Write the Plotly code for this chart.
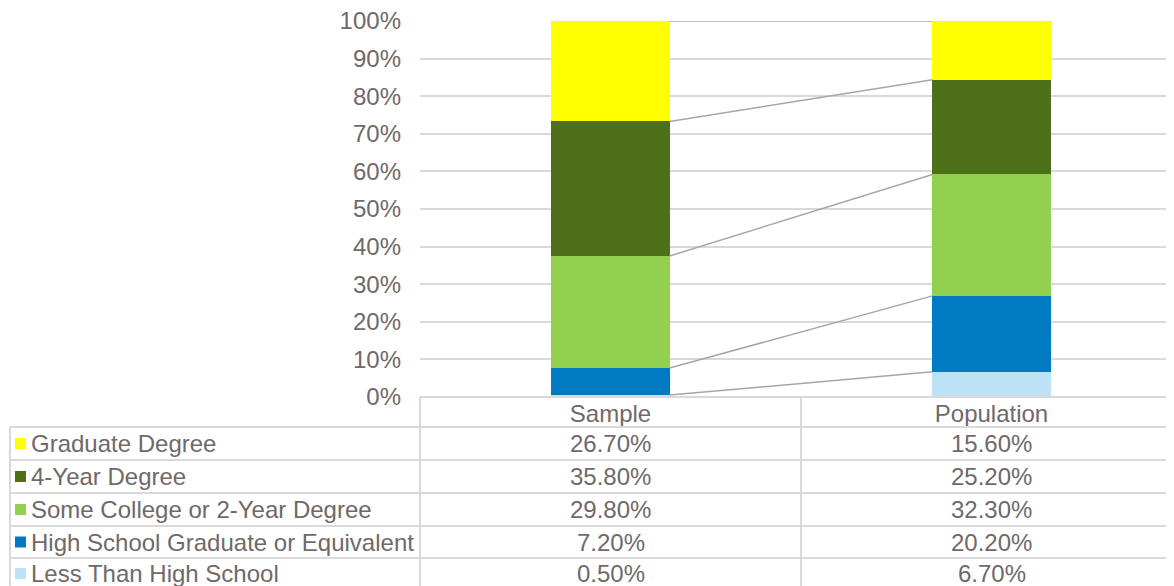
import plotly.graph_objects as go

categories = ["Sample", "Population"]
series_names = ["Graduate Degree", "4-Year Degree", "Some College or 2-Year Degree",
                "High School Graduate or Equivalent", "Less Than High School"]
sample_vals = [26.7, 35.8, 29.8, 7.2, 0.5]
population_vals = [15.6, 25.2, 32.3, 20.2, 6.7]
series_colors = ["#FFFF00", "#4F701A", "#92D050", "#007AC2", "#BDE1F5"]
y_ticks = list(range(0, 101, 10))
y_tick_labels = [f"{v}%" for v in y_ticks]

W, H = 1174, 586
OFF = 8  # page body margin
TXT = "#6F6969"
GRID = "#D9D9D9"
FONT = "Liberation Sans, Arial, Helvetica, sans-serif"
FS = 24

def px(x):
    return (x - OFF) / W

def py(y):
    return 1 - (y - OFF) / H

bw = 0.31
fig = go.Figure()

# stacked bars, bottom series first
for i in reversed(range(len(series_names))):
    fig.add_trace(go.Bar(
        x=[0, 1], y=[sample_vals[i], population_vals[i]],
        width=bw, marker=dict(color=series_colors[i], line=dict(width=0)),
        name=series_names[i], showlegend=False, hoverinfo="skip"))

# series lines connecting cumulative tops
cum_s, cum_p = 0.0, 0.0
for i in reversed(range(len(series_names))):
    cum_s += sample_vals[i]
    cum_p += population_vals[i]
    fig.add_trace(go.Scatter(
        x=[bw / 2, 1 - bw / 2], y=[cum_s, cum_p], mode="lines",
        line=dict(color="#A6A6A6", width=1.5), showlegend=False, hoverinfo="skip"))

x0, x_mid, x_end = 420, 801, 1182
y_axis_bottom, y_axis_top = 397, 21
row_lines = [427, 460, 493, 526, 558]
row_centers = [443.5, 476.5, 509.5, 542, 573.5]

fig.update_layout(
    width=W, height=H, margin=dict(l=0, r=0, t=0, b=0, autoexpand=False),
    paper_bgcolor="white", plot_bgcolor="white",
    barmode="stack",
    font=dict(family=FONT, size=FS, color=TXT),
    xaxis=dict(domain=[px(x0), px(x_end)], range=[-0.5, 1.5],
               tickvals=[0, 1], ticktext=categories, showgrid=False, zeroline=False,
               showline=False, ticks="", automargin=False, ticklabeloverflow="allow",
               tickfont=dict(size=FS, color=TXT)),
    yaxis=dict(domain=[py(y_axis_bottom), py(y_axis_top)], range=[0, 100],
               tickmode="array", tickvals=y_ticks, ticktext=y_tick_labels,
               showgrid=True, gridcolor=GRID, automargin=False,
               gridwidth=1.5, zeroline=False, showline=False, ticks="",
               ticklabeloverflow="allow",
               ticklabelstandoff=18, tickfont=dict(size=FS, color=TXT)),
)

shapes = []
def hline(y, xa, xb):
    shapes.append(dict(type="line", xref="paper", yref="paper",
                       x0=px(xa), x1=px(xb), y0=py(y), y1=py(y),
                       line=dict(color=GRID, width=2)))

def vline(x, ya, yb):
    shapes.append(dict(type="line", xref="paper", yref="paper",
                       x0=px(x), x1=px(x), y0=py(ya), y1=py(yb),
                       line=dict(color=GRID, width=2)))

hline(y_axis_bottom, x0, x_end)
for ry in row_lines:
    hline(ry, 10, x_end)
vline(10, row_lines[0], H + OFF)
vline(x0, y_axis_bottom, H + OFF)
vline(x_mid, y_axis_bottom, H + OFF)

annotations = []
for i, name in enumerate(series_names):
    cy = row_centers[i]
    shapes.append(dict(type="rect", xref="paper", yref="paper",
                       x0=px(15), x1=px(26), y0=py(cy - 5.5), y1=py(cy + 5.5),
                       fillcolor=series_colors[i], line=dict(width=0)))
    annotations.append(dict(xref="paper", yref="paper", x=px(29), y=py(cy),
                            text=name, showarrow=False, xanchor="left", yanchor="middle",
                            font=dict(size=FS, color=TXT)))
    for j, vals in enumerate([sample_vals, population_vals]):
        cx = 610.5 + 381 * j
        annotations.append(dict(xref="paper", yref="paper", x=px(cx), y=py(cy),
                                text=f"{vals[i]:.2f}%", showarrow=False,
                                xanchor="center", yanchor="middle",
                                font=dict(size=FS, color=TXT)))

fig.update_layout(shapes=shapes, annotations=annotations)
fig.write_html("out.html")
